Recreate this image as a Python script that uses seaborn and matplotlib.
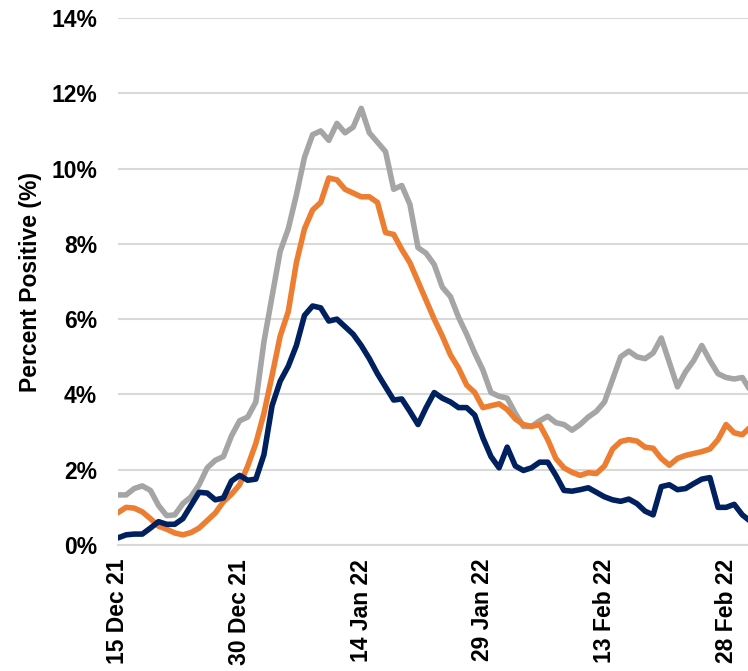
import pandas as pd
import matplotlib.pyplot as plt
import matplotlib.dates as mdates
from matplotlib.ticker import PercentFormatter
import seaborn as sns

# daily percent positive, starting 15 Dec 21
start_date = "2021-12-15"

grey_pct = [1.33, 1.33, 1.5, 1.57, 1.45, 1.05, 0.78, 0.8, 1.1, 1.28,
            1.6, 2.05, 2.25, 2.35, 2.9, 3.3, 3.4, 3.8, 5.4, 6.6,
            7.8, 8.4, 9.3, 10.3, 10.9, 11.0, 10.75, 11.2, 10.95, 11.1,
            11.6, 10.95, 10.7, 10.45, 9.45, 9.55, 9.05, 7.9, 7.75, 7.45,
            6.85, 6.6, 6.05, 5.6, 5.1, 4.65, 4.05, 3.95, 3.9, 3.5,
            3.15, 3.15, 3.3, 3.42, 3.25, 3.2, 3.05, 3.2, 3.4, 3.55,
            3.8, 4.4, 5.0, 5.15, 5.0, 4.95, 5.1, 5.5, 4.85, 4.2,
            4.6, 4.9, 5.3, 4.9, 4.55, 4.45, 4.41, 4.45, 4.1]

orange_pct = [0.86, 1.0, 0.98, 0.88, 0.7, 0.5, 0.42, 0.32, 0.27, 0.33,
              0.45, 0.65, 0.85, 1.15, 1.35, 1.6, 2.1, 2.7, 3.5, 4.5,
              5.55, 6.2, 7.5, 8.4, 8.9, 9.1, 9.75, 9.7, 9.45, 9.35,
              9.25, 9.25, 9.1, 8.3, 8.25, 7.85, 7.5, 7.0, 6.5, 6.0,
              5.55, 5.05, 4.7, 4.25, 4.05, 3.65, 3.7, 3.75, 3.6, 3.35,
              3.2, 3.15, 3.2, 2.8, 2.3, 2.05, 1.93, 1.85, 1.92, 1.9,
              2.1, 2.55, 2.75, 2.8, 2.76, 2.6, 2.57, 2.3, 2.12, 2.3,
              2.38, 2.43, 2.48, 2.55, 2.8, 3.2, 2.98, 2.93, 3.14]

navy_pct = [0.19, 0.27, 0.29, 0.29, 0.45, 0.62, 0.55, 0.55, 0.7, 1.05,
            1.4, 1.38, 1.2, 1.25, 1.7, 1.85, 1.72, 1.75, 2.4, 3.7,
            4.35, 4.75, 5.3, 6.1, 6.35, 6.3, 5.95, 6.0, 5.8, 5.6,
            5.3, 4.95, 4.55, 4.2, 3.85, 3.88, 3.55, 3.2, 3.65, 4.05,
            3.9, 3.8, 3.65, 3.65, 3.45, 2.85, 2.35, 2.05, 2.6, 2.1,
            1.98, 2.05, 2.2, 2.2, 1.85, 1.45, 1.43, 1.47, 1.52, 1.4,
            1.28, 1.2, 1.16, 1.22, 1.1, 0.9, 0.8, 1.55, 1.6, 1.47,
            1.5, 1.63, 1.75, 1.79, 1.0, 1.0, 1.08, 0.8, 0.63]

tick_dates = ["2021-12-15", "2021-12-30", "2022-01-14",
              "2022-01-29", "2022-02-13", "2022-02-28"]

dates = pd.date_range(start_date, periods=len(grey_pct), freq="D")
df = pd.DataFrame({"date": dates, "grey": grey_pct,
                   "orange": orange_pct, "navy": navy_pct})

sns.set_style("white")
plt.rcParams["font.family"] = ["Liberation Sans", "DejaVu Sans"]
plt.rcParams["text.color"] = "black"
plt.rcParams["axes.labelcolor"] = "black"
plt.rcParams["xtick.labelcolor"] = "black"
plt.rcParams["ytick.labelcolor"] = "black"

W, H = 748, 671
fig = plt.figure(figsize=(W / 100, H / 100), dpi=100)
ax = fig.add_axes([118 / W, 1 - 545 / H, (W - 118) / W, (545 - 18) / H])

for col, color in [("grey", "#A5A5A5"), ("orange", "#ED7D31"), ("navy", "#002060")]:
    sns.lineplot(data=df, x="date", y=col, color=color, linewidth=4.0, ax=ax)

ax.set_ylim(0, 14)
ax.set_yticks(range(0, 15, 2))
ax.yaxis.set_major_formatter(PercentFormatter(decimals=0))
ax.set_xlim(dates[0], dates[0] + pd.Timedelta(days=77.7))
ax.set_xticks(pd.to_datetime(tick_dates))
ax.xaxis.set_major_formatter(mdates.DateFormatter("%d %b %y"))

ax.grid(axis="y", color="#D9D9D9", linewidth=1.5)
ax.set_axisbelow(True)
for side in ["top", "right", "left"]:
    ax.spines[side].set_visible(False)
ax.spines["bottom"].set_color("#D9D9D9")
ax.spines["bottom"].set_linewidth(1.5)

ax.tick_params(axis="y", length=0, pad=15, labelsize=16.5, labelcolor="black")
ax.tick_params(axis="x", direction="out", length=7, width=1.5, color="#D9D9D9",
               pad=3, labelsize=16.5, labelrotation=90, labelcolor="black")
for lbl in ax.get_xticklabels() + ax.get_yticklabels():
    lbl.set_fontweight("bold")

ax.set_xlabel("")
ax.set_ylabel("Percent Positive (%)", fontsize=16.5, fontweight="bold", color="black")
ax.yaxis.set_label_coords(-0.12, 0.5)

fig.savefig("out.png", dpi=100)
